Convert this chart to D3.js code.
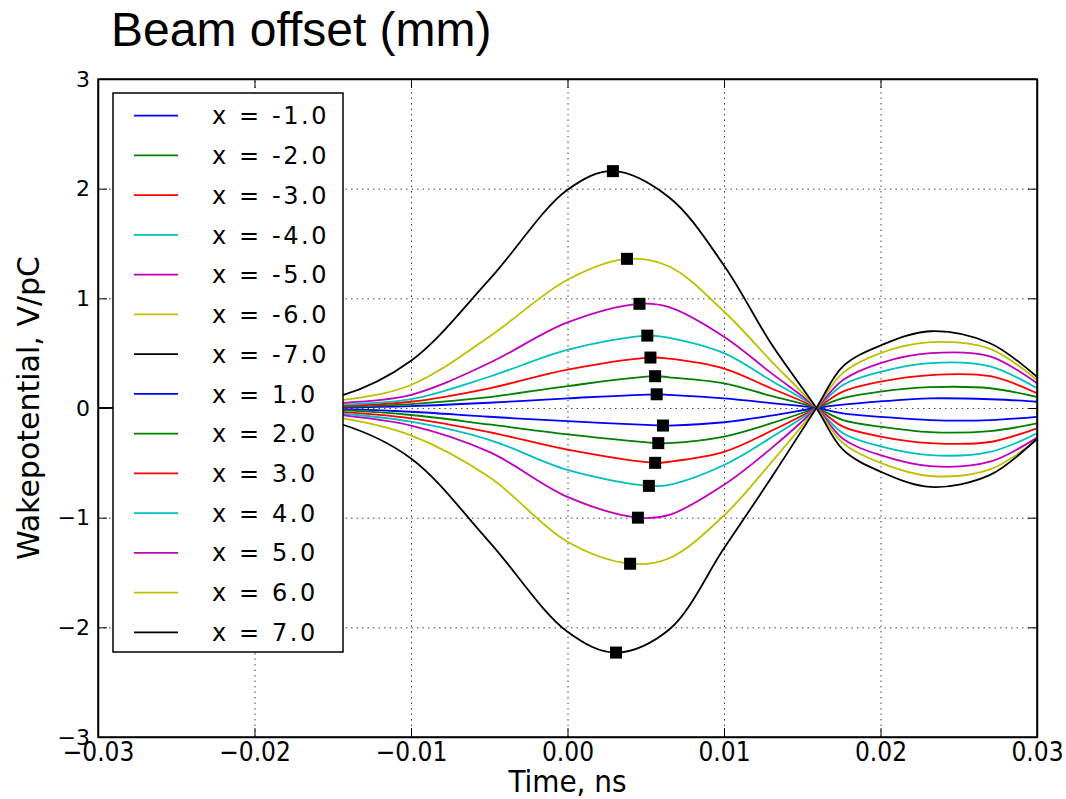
<!DOCTYPE html>
<html lang="en">
<head>
    <meta charset="UTF-8">
    <title>Beam offset wakepotential</title>
    <script src="https://d3js.org/d3.v7.min.js"></script>
    <style>
        body { margin: 0; background: #fff; }
        svg { display: block; }
        .title { font-family: "Liberation Sans", Arial, sans-serif; font-size: 48px; }
        .ylabel { font-family: "DejaVu Sans", sans-serif; font-size: 30px; }
        .xlabel { font-family: "DejaVu Sans Condensed", "DejaVu Sans", sans-serif; font-stretch: condensed; font-size: 31px; }
        .xaxis text { font-family: "DejaVu Sans Condensed", "DejaVu Sans", sans-serif; font-stretch: condensed; font-size: 26px; fill: #000; }
        .yaxis text { font-family: "DejaVu Sans", sans-serif; font-size: 22px; fill: #000; }
        .grid line { stroke: #444; stroke-width: 1; stroke-dasharray: 1.5,4; }
        .grid .domain { display: none; }
        .legend text { font-family: "DejaVu Sans", sans-serif; font-size: 24px; letter-spacing: 2.6px; }
        .curve { fill: none; stroke-width: 1.8; }
    </style>
</head>
<body>
<svg width="1066" height="799"></svg>
<script>
    // time grid (ns) shared by all curves
    const tGrid = [-0.03, -0.02, -0.0145, -0.01, -0.005, 0, 0.0065, 0.01, 0.013, 0.0159, 0.0176, 0.02, 0.0232, 0.027, 0.03];

    const labels = ["x = -1.0", "x = -2.0", "x = -3.0", "x = -4.0", "x = -5.0", "x = -6.0", "x = -7.0",
                    "x = 1.0", "x = 2.0", "x = 3.0", "x = 4.0", "x = 5.0", "x = 6.0", "x = 7.0"];
    const colors = ["#0000ff", "#008000", "#ff0000", "#00bfbf", "#bf00bf", "#bfbf00", "#000000",
                    "#0000ff", "#008000", "#ff0000", "#00bfbf", "#bf00bf", "#bfbf00", "#000000"];

    // wakepotential (V/pC) at tGrid
    const wM1 = [0, 0.001, 0.005, 0.018, 0.048, 0.088, 0.12, 0.088, 0.045, 0, -0.05, -0.08, -0.11, -0.11, -0.08];
    const wM2 = [0, 0.002, 0.01, 0.036, 0.10, 0.20, 0.28, 0.225, 0.11, 0, -0.11, -0.17, -0.22, -0.21, -0.14];
    const wM3 = [0, 0.003, 0.02, 0.057, 0.18, 0.35, 0.45, 0.36, 0.18, 0, -0.17, -0.26, -0.32, -0.31, -0.185];
    const wM4 = [0, 0.005, 0.03, 0.08, 0.285, 0.53, 0.64, 0.50, 0.25, 0, -0.23, -0.35, -0.43, -0.40, -0.23];
    const wM5 = [0, 0.008, 0.045, 0.12, 0.41, 0.78, 0.92, 0.65, 0.32, 0, -0.28, -0.43, -0.53, -0.49, -0.27];
    const wM6 = [0, 0.012, 0.07, 0.21, 0.65, 1.17, 1.29, 0.88, 0.43, 0, -0.32, -0.50, -0.62, -0.56, -0.29];
    const wM7 = [0, 0.02, 0.11, 0.43, 1.17, 1.99, 1.92, 1.30, 0.59, 0, -0.38, -0.58, -0.72, -0.61, -0.28];
    const wP1 = [0, -0.002, -0.01, -0.034, -0.08, -0.12, -0.16, -0.13, -0.07, 0, 0.03, 0.06, 0.088, 0.08, 0.057];
    const wP2 = [0, -0.003, -0.02, -0.064, -0.15, -0.24, -0.32, -0.26, -0.14, 0, 0.09, 0.15, 0.19, 0.18, 0.10];
    const wP3 = [0, -0.005, -0.035, -0.094, -0.22, -0.38, -0.49, -0.40, -0.21, 0, 0.15, 0.24, 0.30, 0.29, 0.135];
    const wP4 = [0, -0.007, -0.05, -0.125, -0.29, -0.565, -0.70, -0.52, -0.27, 0, 0.21, 0.33, 0.41, 0.38, 0.18];
    const wP5 = [0, -0.01, -0.065, -0.16, -0.40, -0.81, -0.975, -0.70, -0.37, 0, 0.255, 0.41, 0.50, 0.47, 0.225];
    const wP6 = [0, -0.015, -0.09, -0.25, -0.63, -1.22, -1.37, -0.98, -0.50, 0, 0.32, 0.50, 0.60, 0.54, 0.255];
    const wP7 = [0, -0.03, -0.146, -0.46, -1.22, -2.04, -2.02, -1.28, -0.64, 0, 0.38, 0.57, 0.70, 0.59, 0.285];

    // extremum markers (black squares)
    const peakT = [0.0057, 0.0056, 0.0053, 0.0051, 0.0046, 0.0038, 0.0029, 0.0061, 0.0058, 0.0056, 0.0052, 0.0045, 0.0040, 0.0031];
    const peakV = [0.125, 0.29, 0.46, 0.66, 0.95, 1.36, 2.16, -0.16, -0.32, -0.50, -0.71, -1.00, -1.42, -2.23];

    const xTicks = [-0.03, -0.02, -0.01, 0, 0.01, 0.02, 0.03];
    const yTicks = [-3, -2, -1, 0, 1, 2, 3];

    const wakes = [wM1, wM2, wM3, wM4, wM5, wM6, wM7, wP1, wP2, wP3, wP4, wP5, wP6, wP7];

    const svg = d3.select("svg");
    const pLeft = 98, pRight = 1037, pTop = 79, pBottom = 737;
    const w = pRight - pLeft, h = pBottom - pTop;

    const x = d3.scaleLinear().domain([-0.03, 0.03]).range([pLeft, pRight]);
    const y = d3.scaleLinear().domain([-3, 3]).range([pBottom, pTop]);

    svg.append("text").attr("class", "title")
        .attr("x", 111).attr("y", 46).text("Beam offset (mm)");

    // grid
    svg.append("g").attr("class", "grid")
        .attr("transform", `translate(0,${pBottom})`)
        .call(d3.axisBottom(x).tickValues(xTicks).tickSize(-h).tickFormat(""));
    svg.append("g").attr("class", "grid")
        .attr("transform", `translate(${pLeft},0)`)
        .call(d3.axisLeft(y).tickValues(yTicks).tickSize(-w).tickFormat(""));

    const series = wakes.map((vals, i) => {
        const pts = tGrid.map((t, k) => ({t: t, v: vals[k]}));
        pts.push({t: peakT[i], v: peakV[i]});
        pts.sort((a, b) => a.t - b.t);
        return {label: labels[i], color: colors[i], pts: pts, peak: {t: peakT[i], v: peakV[i]}};
    });

    svg.append("clipPath").attr("id", "plot")
        .append("rect").attr("x", pLeft).attr("y", pTop).attr("width", w).attr("height", h);

    const line = d3.line()
        .x(d => x(d.t))
        .y(d => y(d.v))
        .curve(d3.curveCatmullRom.alpha(0.5));

    const plot = svg.append("g").attr("clip-path", "url(#plot)");
    plot.selectAll("path.curve")
        .data(series)
        .enter().append("path")
        .attr("class", "curve")
        .attr("stroke", d => d.color)
        .attr("d", d => line(d.pts));

    plot.selectAll("rect.peak")
        .data(series)
        .enter().append("rect")
        .attr("class", "peak")
        .attr("x", d => x(d.peak.t) - 6)
        .attr("y", d => y(d.peak.v) - 6)
        .attr("width", 12).attr("height", 12)
        .attr("fill", "#000");

    // axes with inward ticks
    svg.append("g").attr("class", "xaxis")
        .attr("transform", `translate(0,${pBottom})`)
        .call(d3.axisBottom(x).tickValues(xTicks).tickSizeInner(-9).tickSizeOuter(0)
            .tickPadding(6).tickFormat(d3.format(".2f")));
    svg.append("g")
        .attr("transform", `translate(0,${pTop})`)
        .call(d3.axisTop(x).tickValues(xTicks).tickSizeInner(-9).tickSizeOuter(0).tickFormat(""));
    svg.append("g").attr("class", "yaxis")
        .attr("transform", `translate(${pLeft},0)`)
        .call(d3.axisLeft(y).tickValues(yTicks).tickSizeInner(-9).tickSizeOuter(0)
            .tickPadding(8).tickFormat(d3.format("d")));
    svg.append("g")
        .attr("transform", `translate(${pRight},0)`)
        .call(d3.axisRight(y).tickValues(yTicks).tickSizeInner(-9).tickSizeOuter(0).tickFormat(""));

    svg.selectAll(".domain").attr("stroke", "#000").attr("stroke-width", 1.5);
    svg.selectAll(".grid .domain").remove();

    svg.append("rect")
        .attr("x", pLeft).attr("y", pTop).attr("width", w).attr("height", h)
        .attr("fill", "none").attr("stroke", "#000").attr("stroke-width", 1.5);

    svg.append("text").attr("class", "xlabel")
        .attr("x", (pLeft + pRight) / 2).attr("y", 792)
        .attr("text-anchor", "middle").text("Time, ns");

    svg.append("text").attr("class", "ylabel")
        .attr("transform", `translate(39,${(pTop + pBottom) / 2}) rotate(-90)`)
        .attr("text-anchor", "middle").text("Wakepotential, V/pC");

    // legend
    const lg = svg.append("g").attr("class", "legend");
    lg.append("rect")
        .attr("x", 113).attr("y", 93).attr("width", 230).attr("height", 559)
        .attr("fill", "#fff").attr("stroke", "#000").attr("stroke-width", 1.5);
    const rowY = d3.scalePoint().domain(labels).range([115.7, 632.3]);
    const row = lg.selectAll("g.row").data(series).enter().append("g")
        .attr("transform", d => `translate(0,${rowY(d.label)})`);
    row.append("line")
        .attr("x1", 134).attr("x2", 178)
        .attr("stroke", d => d.color).attr("stroke-width", 1.8);
    row.append("text")
        .attr("x", 212).attr("dy", "0.36em")
        .text(d => d.label);
</script>
</body>
</html>
